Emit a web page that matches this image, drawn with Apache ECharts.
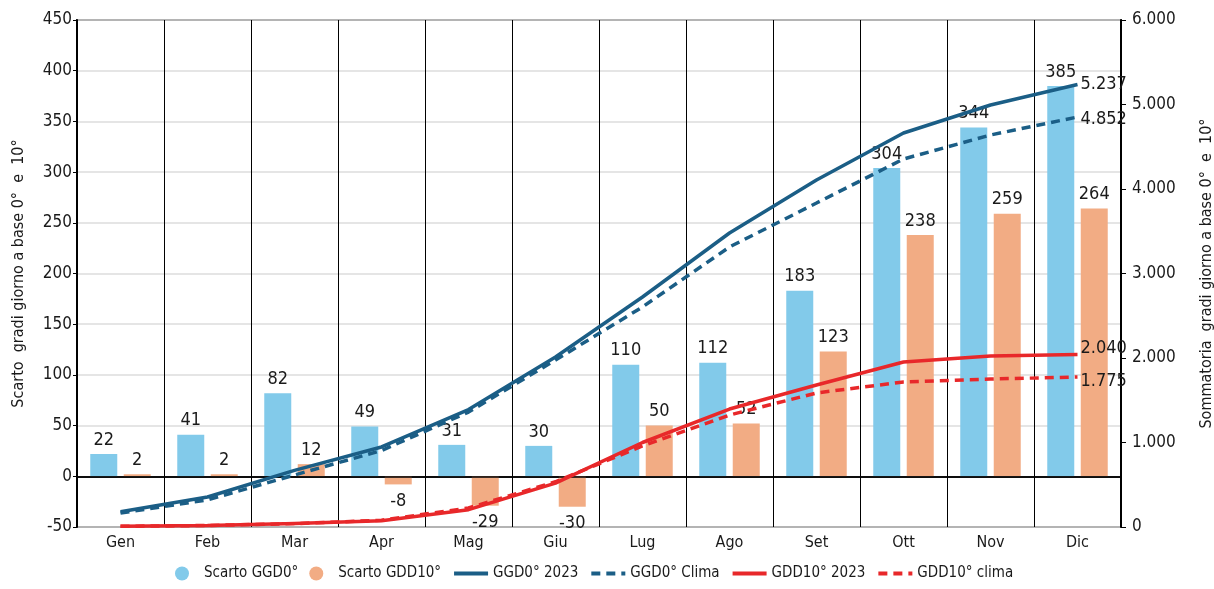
<!DOCTYPE html>
<html>
<head>
<meta charset="utf-8">
<script src="https://cdn.jsdelivr.net/npm/echarts@6/dist/echarts.min.js"></script>
<style>
html,body{margin:0;padding:0;background:#fff;}
#chart{width:1214px;height:589px;}
</style>
</head>
<body>
<div id="chart"></div>
<script>
const months = ['Gen','Feb','Mar','Apr','Mag','Giu','Lug','Ago','Set','Ott','Nov','Dic'];
const scartoGGD0 = [22,41,82,49,31,30,110,112,183,304,344,385];
const scartoGDD10 = [2,2,12,-8,-29,-30,50,52,123,238,259,264];
const ggd0_2023 = [180,355,670,947,1390,2012,2722,3479,4107,4663,4994,5237];
const ggd0_clima = [165,320,615,905,1360,1976,2604,3314,3834,4355,4639,4852];
const gdd10_2023 = [8,18,42,75,205,520,1000,1396,1680,1953,2024,2040];
const gdd10_clima = [8,18,40,80,225,535,960,1325,1586,1716,1751,1775];
const leftTicks = {min:-50,max:450,interval:50};
const rightTicks = {min:0,max:6000,interval:1000};

const FONT = "'Liberation Sans Narrow','DejaVu Sans Condensed',sans-serif";
const TXT = '#1a1a1a';
const fmtIt = v => String(Math.round(v)).replace(/\B(?=(\d{3})+(?!\d))/g,'.');

function barData(arr){
  return arr.map(v => v < 0 ? {value:v,label:{position:'bottom',distance:8}} : v);
}
function endLabel(dy){
  return {show:true,distance:3,offset:[0,dy],formatter:p=>fmtIt(p.value),
          fontFamily:FONT,fontSize:18,color:TXT};
}

const chart = echarts.init(document.getElementById('chart'), null, {renderer:'canvas'});
chart.setOption({
  animation:false,
  backgroundColor:'#fff',
  textStyle:{fontFamily:FONT},
  grid:{left:77,right:93,top:20,bottom:62,containLabel:false,outerBoundsMode:'none',
        show:true,borderColor:'#000',borderWidth:1.5,backgroundColor:'transparent'},
  legend:{
    bottom:3,left:170,itemGap:11,itemWidth:34,itemHeight:14,
    lineStyle:{width:4},
    textStyle:{fontFamily:FONT,fontSize:15,color:TXT},
    data:[
      {name:'Scarto GGD0°',icon:'circle'},
      {name:'Scarto GDD10°',icon:'circle'},
      {name:'GGD0° 2023',itemStyle:{opacity:0}},
      {name:'GGD0° Clima',itemStyle:{opacity:0}},
      {name:'GDD10° 2023',itemStyle:{opacity:0}},
      {name:'GDD10° clima',itemStyle:{opacity:0}}
    ]
  },
  xAxis:{
    type:'category',data:months,boundaryGap:true,
    axisLine:{lineStyle:{color:'#000',width:1.5}},
    axisTick:{show:false},
    splitLine:{show:true,lineStyle:{color:'#000',width:1}},
    axisLabel:{fontFamily:FONT,fontSize:16,color:TXT,margin:8}
  },
  yAxis:[
    {type:'value',min:leftTicks.min,max:leftTicks.max,interval:leftTicks.interval,
     name:'Scarto  gradi giorno a base 0°  e  10°',nameLocation:'middle',nameGap:50,nameRotate:90,
     nameTextStyle:{fontFamily:FONT,fontSize:16,color:TXT},
     axisLine:{show:true,lineStyle:{color:'#000',width:2}},
     axisTick:{show:true,length:4,lineStyle:{color:'#000'}},
     axisLabel:{fontFamily:FONT,fontSize:17,color:TXT,margin:5},
     splitLine:{show:true,lineStyle:{color:'#dcdcdc',width:1.5}}
    },
    {type:'value',min:rightTicks.min,max:rightTicks.max,interval:rightTicks.interval,position:'right',
     name:'Sommatoria  gradi giorno a base 0°  e  10°',nameLocation:'middle',nameGap:78,nameRotate:90,
     nameTextStyle:{fontFamily:FONT,fontSize:16,color:TXT},
     axisLine:{show:true,lineStyle:{color:'#000',width:2}},
     axisTick:{show:true,length:5,lineStyle:{color:'#000'}},
     axisLabel:{fontFamily:FONT,fontSize:17,color:TXT,margin:11,formatter:v=>fmtIt(v)},
     splitLine:{show:false}
    }
  ],
  series:[
    {name:'Scarto GGD0°',type:'bar',yAxisIndex:0,data:barData(scartoGGD0),barWidth:27,barGap:'24%',
     itemStyle:{color:'#82CAEA'},
     label:{show:true,position:'top',distance:5,fontFamily:FONT,fontSize:18,color:TXT},
     markLine:{silent:true,symbol:'none',label:{show:false},lineStyle:{color:'#000',width:1.5,type:'solid'},data:[{yAxis:0}]},
     z:2},
    {name:'Scarto GDD10°',type:'bar',yAxisIndex:0,data:barData(scartoGDD10),barWidth:27,
     itemStyle:{color:'#F2AC84'},
     label:{show:true,position:'top',distance:5,fontFamily:FONT,fontSize:18,color:TXT},
     z:2},
    {name:'GGD0° 2023',type:'line',yAxisIndex:1,data:ggd0_2023,symbol:'none',
     lineStyle:{color:'#1B5E86',width:3.5},itemStyle:{color:'#1B5E86'},endLabel:endLabel(0),z:5},
    {name:'GGD0° Clima',type:'line',yAxisIndex:1,data:ggd0_clima,symbol:'none',
     lineStyle:{color:'#1B5E86',width:3.5,type:[9,6]},itemStyle:{color:'#1B5E86'},endLabel:endLabel(2),z:5},
    {name:'GDD10° 2023',type:'line',yAxisIndex:1,data:gdd10_2023,symbol:'none',
     lineStyle:{color:'#E8282A',width:3.5},itemStyle:{color:'#E8282A'},endLabel:endLabel(-6),z:5},
    {name:'GDD10° clima',type:'line',yAxisIndex:1,data:gdd10_clima,symbol:'none',
     lineStyle:{color:'#E8282A',width:3.5,type:[9,6]},itemStyle:{color:'#E8282A'},endLabel:endLabel(4),z:5}
  ]
});
</script>
</body>
</html>
